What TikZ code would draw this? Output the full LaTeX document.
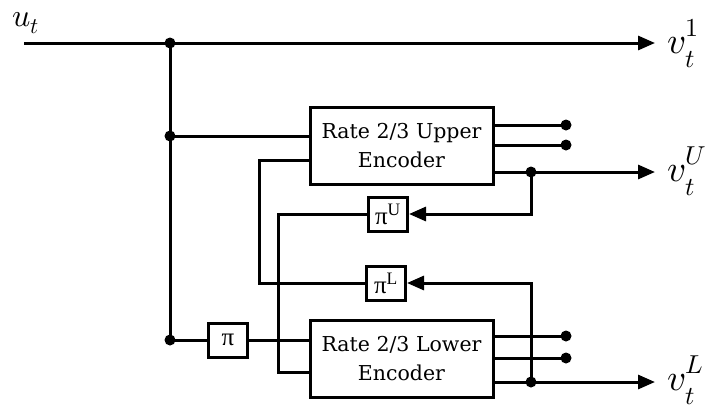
\documentclass[tikz,border=0pt]{standalone}
\usepackage{fontspec}
\usepackage{unicode-math}
\setmainfont{DejaVu Serif}
\setmathfont{Latin Modern Math}
\newfontfamily\pifont{Liberation Serif}
\usetikzlibrary{arrows.meta}
\newcommand\outsig[1]{$v^{\raisebox{3pt}{$\scriptstyle #1$}}_{\raisebox{-5pt}{$\scriptstyle t$}}$}

\begin{document}
\begin{tikzpicture}[x=1pt,y=-1pt,
  wire/.style={line width=3pt},
  sig/.style={wire, -{Triangle[length=17pt,width=14pt]}},
  enc/.style={draw, line width=3pt, minimum width=183pt, minimum height=77pt,
    align=center, inner sep=0pt, font=\fontsize{20.5}{29}\selectfont},
  perm/.style={draw, line width=3pt, minimum width=39pt, minimum height=34pt,
    inner sep=0pt, font=\pifont\fontsize{25}{26}\selectfont},
  lbl/.style={inner sep=0pt, font=\fontsize{32}{34}\selectfont},
  outlbl/.style={inner sep=0pt, font=\fontsize{37}{40}\selectfont}]
\useasboundingbox (0,0) rectangle (714,408);

% blocks
\node[enc] (upenc) at (401.5,145.5) {Rate 2/3 Upper\\Encoder};
\node[enc] (loenc) at (401.5,358.5) {Rate 2/3 Lower\\Encoder};
\node[perm] (piU) at (388,214) {π\textsuperscript{U}};
\node[perm] (piL) at (386,283) {π\textsuperscript{L}};
\node[perm] (pi) at (228,340) {π};

% branch points and free ends
\coordinate (in) at (24,43);
\coordinate (ja) at (170,43);
\coordinate (jb) at (170,136);
\coordinate (jc) at (170,340);
\coordinate (o1) at (655,43);
\coordinate (ua) at (259,160);
\coordinate (lb) at (278,372);
\coordinate (uo1) at (566,125);
\coordinate (uo2) at (566,145);
\coordinate (ujn) at (531,172);
\coordinate (uo3) at (655,172);
\coordinate (lo1) at (566,336);
\coordinate (lo2) at (566,358);
\coordinate (ljn) at (531,382);
\coordinate (lo3) at (655,382);

% input side
\draw[wire] (in) -- (ja);
\draw[sig] (ja) -- (o1);
\draw[wire] (ja) -- (jc);
\draw[wire] (jb) -- (jb -| upenc.west);
\draw[wire] (jc) -- (pi);
\draw[wire] (pi) -- (pi -| loenc.west);
\draw[wire] (ua -| upenc.west) -- (ua) |- (piL.west);
\draw[wire] (lb -| loenc.west) -- (lb) |- (piU.west);

% upper encoder outputs
\draw[wire] (uo1 -| upenc.east) -- (uo1);
\draw[wire] (uo2 -| upenc.east) -- (uo2);
\draw[sig] (uo3 -| upenc.east) -- (uo3);
\draw[sig] (ujn) |- (piU.east);

% lower encoder outputs
\draw[wire] (lo1 -| loenc.east) -- (lo1);
\draw[wire] (lo2 -| loenc.east) -- (lo2);
\draw[sig] (lo3 -| loenc.east) -- (lo3);
\draw[sig] (ljn) |- (piL.east);

% dots
\foreach \p in {ja,jb,jc,uo1,uo2,ujn,lo1,lo2,ljn}
  \fill (\p) circle (5.5);

% labels
\node[lbl, anchor=base west] (ut) at (12,26) {$u_t$};
\node[outlbl, anchor=base west] (v1) at (667,53) {\outsig{1}};
\node[outlbl, anchor=base west] (vU) at (667,181) {\outsig{U}};
\node[outlbl, anchor=base west] (vL) at (667,390) {\outsig{L}};
\end{tikzpicture}
\end{document}
